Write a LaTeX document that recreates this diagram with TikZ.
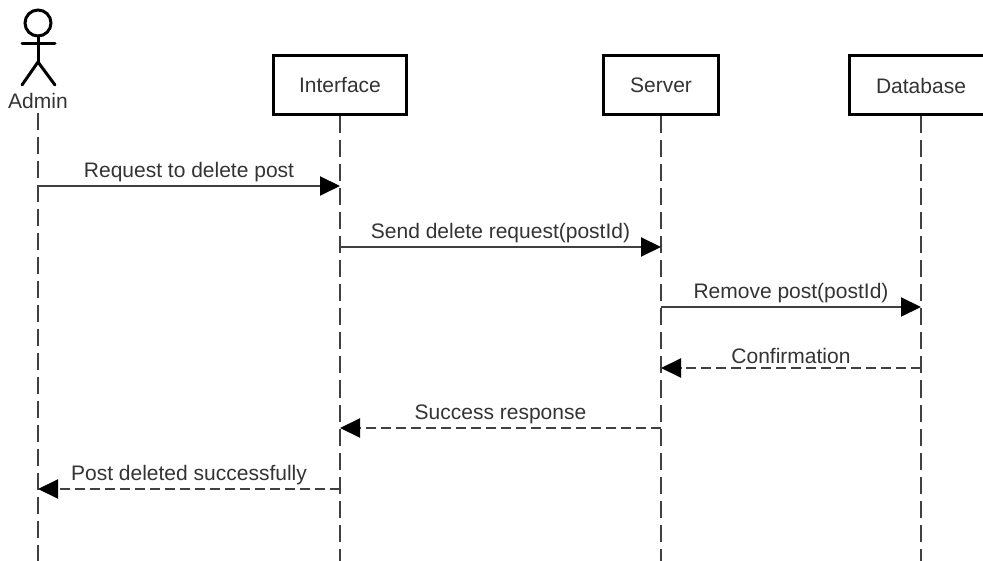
\documentclass[tikz,border=0pt]{standalone}
\usepackage{fontspec}
\setmainfont{Liberation Sans}
\usetikzlibrary{arrows.meta}

\begin{document}
\begin{tikzpicture}[x=1pt,y=-1pt,
	every node/.style={font=\fontsize{21}{24}\selectfont, text=black!80},
	lifebox/.style={draw=black, line width=3pt, minimum width=#1, minimum height=59pt, inner sep=0pt},
	lifeline/.style={draw=black!75, line width=2pt, dash pattern=on 17pt off 7pt},
	call/.style={draw=black!75, line width=2pt, -{Triangle[length=20pt,width=19pt,color=black]}},
	reply/.style={call, dash pattern=on 10pt off 5pt},
	msg/.style={midway, above, inner sep=0pt, yshift=3.5pt},
	actor/.style={line width=3pt, line cap=round}]
	\useasboundingbox (0,0) rectangle (983,561);
	\def\bottom{561} %where the lifelines stop
	% actor
	\draw[actor] (38,23) circle(13);
	\draw[actor] (38,36) -- (38,62);
	\draw[actor] (22,44) -- (55,44);
	\draw[actor] (22,85) -- (38,62) -- (55,85);
	\node[inner sep=0pt, minimum height=24pt] (Admin) at (38,101) {Admin};
	% boxes
	\node[lifebox=133pt] (Interface) at (340,85.5) {Interface};
	\node[lifebox=115pt] (Server) at (661,85.5) {Server};
	\node[lifebox=144pt] (Database) at (921,85.5) {Database};
	% lifelines
	\foreach \name/\x in {Admin/38, Interface/340, Server/661, Database/921}{
		\coordinate (\name End) at (\x,\bottom);
		\draw[lifeline] (\name.south) -- (\name End);
	}
	% message ends
	\coordinate(AdminA) at (38,186);
	\coordinate(InterfaceA) at (340,186);
	\coordinate(InterfaceB) at (340,247);
	\coordinate(ServerA) at (661,247);
	\coordinate(ServerB) at (661,307);
	\coordinate(DatabaseA) at (921,307);
	\coordinate(DatabaseB) at (921,368);
	\coordinate(ServerC) at (661,368);
	\coordinate(ServerD) at (661,428);
	\coordinate(InterfaceC) at (340,428);
	\coordinate(InterfaceD) at (340,489);
	\coordinate(AdminB) at (38,489);
	% messages
	\draw[call](AdminA)--(InterfaceA) node[msg]{Request to delete post};
	\draw[call](InterfaceB)--(ServerA) node[msg]{Send delete request(postId)};
	\draw[call](ServerB)--(DatabaseA) node[msg]{Remove post(postId)};
	\draw[reply](DatabaseB)--(ServerC) node[msg]{Confirmation};
	\draw[reply](ServerD)--(InterfaceC) node[msg]{Success response};
	\draw[reply](InterfaceD)--(AdminB) node[msg]{Post deleted successfully};
\end{tikzpicture}
\end{document}
